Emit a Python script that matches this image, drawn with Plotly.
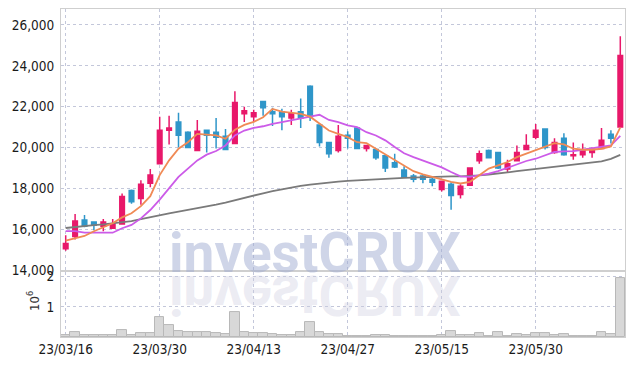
import plotly.graph_objects as go

dates = ["23/03/16","23/03/17","23/03/20","23/03/21","23/03/22","23/03/23","23/03/24","23/03/27","23/03/28","23/03/29",
         "23/03/30","23/03/31","23/04/03","23/04/04","23/04/05","23/04/06","23/04/07","23/04/10","23/04/11","23/04/12",
         "23/04/13","23/04/14","23/04/17","23/04/18","23/04/19","23/04/20","23/04/21","23/04/24","23/04/25","23/04/26",
         "23/04/27","23/04/28","23/05/02","23/05/03","23/05/04","23/05/08","23/05/09","23/05/10","23/05/11","23/05/12",
         "23/05/15","23/05/16","23/05/17","23/05/18","23/05/19","23/05/22","23/05/23","23/05/24","23/05/25","23/05/26",
         "23/05/30","23/05/31","23/06/01","23/06/02","23/06/05","23/06/07","23/06/08","23/06/09","23/06/12","23/06/13"]

open_ = [15050,15650,16450,16350,16150,16050,16250,17900,17500,18250,
         19200,20850,21250,20750,19850,20850,20750,20550,20200,21650,
         21500,22250,21750,21750,21450,21750,23000,21100,20250,19850,
         20600,20950,19950,19900,19600,19250,18900,18600,18600,18450,
         17950,18200,17700,18150,19350,19850,19750,18950,19350,19900,
         20500,20900,19750,20450,19600,19650,19750,19950,20650,21000]
high = [15700,16750,16700,16350,16500,16500,17750,17950,18400,18950,
        21500,21550,21700,20800,21350,20850,21450,20900,22750,22000,
        21850,22250,21950,21900,21850,22400,23050,21100,20250,21100,
        20800,20950,20100,19900,19600,19700,19080,18700,18700,18550,
        18350,18300,18200,19000,19850,19900,19750,19400,20100,20650,
        21150,20900,20450,20700,20250,20200,20000,20950,20850,25450]
low = [14950,15500,16100,15950,15900,16050,16250,17250,17200,18050,
       19200,20150,20000,20000,19850,19750,19950,19900,20200,21250,
       21250,21550,21050,20850,21100,20950,21300,20050,19500,19750,
       19950,19950,19800,19400,18800,19000,18550,18300,18250,18100,
       17850,16950,17500,18150,19200,19500,18950,18800,19350,19900,
       20400,19900,19700,19600,19400,19500,19500,19950,20200,21000]
close = [15300,16400,16150,16200,16350,16250,17600,17350,18200,18650,
         20850,20950,20600,20000,20800,20600,20500,19900,22200,21800,
         21700,21950,21650,21500,21650,21450,21500,20250,19700,20550,
         20450,19950,20100,19500,19000,19050,18550,18450,18450,18300,
         18350,17650,18100,19000,19700,19500,19000,19200,19750,20100,
         20850,20000,20250,19650,19650,19850,19900,20350,20450,24500]

volume_m = [0.05,0.17,0.05,0.05,0.08,0.05,0.24,0.08,0.14,0.14,
            0.67,0.38,0.20,0.17,0.17,0.16,0.14,0.10,0.83,0.16,
            0.12,0.12,0.10,0.07,0.07,0.16,0.48,0.16,0.10,0.10,
            0.03,0.03,0.03,0.08,0.06,0.03,0.03,0.03,0.02,0.03,
            0.05,0.20,0.05,0.07,0.13,0.03,0.16,0.03,0.10,0.07,
            0.13,0.13,0.07,0.10,0.03,0.03,0.03,0.17,0.10,1.96]

ma_short = [15440,15570,15670,15900,16090,16290,16580,16780,17130,17620,
            18650,19370,19940,20260,20670,20640,20590,20430,20870,21110,
            21250,21480,21890,21760,21710,21650,21510,21190,20830,20670,
            20510,20260,20210,19940,19660,19370,19110,18840,18690,18560,
            18440,18320,18240,18320,18640,18970,19130,19290,19530,19700,
            19880,20050,20210,20150,19940,19890,19890,19940,20050,20990]
ma_mid = [15910,15910,15830,15830,15830,15830,16050,16210,16530,16940,
          17450,17990,18560,18970,19370,19650,19830,20100,20590,20830,
          20960,21040,21160,21240,21320,21430,21510,21600,21350,21240,
          21080,21000,20750,20590,20350,20020,19720,19530,19370,19210,
          19030,18800,18590,18560,18640,18720,18840,19000,19180,19340,
          19450,19620,19780,19810,19820,19890,19970,20050,20100,20570]
ma_long = [16060,16120,16160,16205,16240,16290,16340,16400,16500,16600,
           16690,16780,16860,16940,17020,17100,17200,17300,17420,17540,
           17660,17760,17860,17950,18040,18120,18180,18240,18290,18330,
           18370,18400,18430,18450,18470,18490,18510,18530,18550,18560,
           18580,18590,18590,18600,18640,18680,18720,18780,18840,18890,
           18940,18990,19040,19090,19140,19190,19250,19320,19440,19640]

price_ticks = [14000, 16000, 18000, 20000, 22000, 24000, 26000]
vol_ticks = [1, 2]
x_tick_idx = [0, 10, 20, 30, 40, 50]

UP = "#e8186a"
DOWN = "#2f96c9"
GRID = "#c3c7da"
FRAME = "#cfcfcf"
FONT = "DejaVu Sans Condensed, sans-serif"
TICKFONT = dict(family=FONT, size=13.5, color="#1a1a1a")

fig = go.Figure()
fig.add_trace(go.Candlestick(
    x=dates, open=open_, high=high, low=low, close=close,
    increasing=dict(line=dict(color=UP, width=1.5), fillcolor=UP),
    decreasing=dict(line=dict(color=DOWN, width=1.5), fillcolor=DOWN),
    whiskerwidth=0, xaxis="x", yaxis="y", showlegend=False, hoverinfo="skip"))
fig.add_trace(go.Scatter(x=dates, y=ma_long, mode="lines", line=dict(color="#7a7a7a", width=1.8),
                         xaxis="x", yaxis="y", showlegend=False, hoverinfo="skip"))
fig.add_trace(go.Scatter(x=dates, y=ma_mid, mode="lines", line=dict(color="#cc5be8", width=1.8),
                         xaxis="x", yaxis="y", showlegend=False, hoverinfo="skip"))
fig.add_trace(go.Scatter(x=dates, y=ma_short, mode="lines", line=dict(color="#f08a55", width=1.8),
                         xaxis="x", yaxis="y", showlegend=False, hoverinfo="skip"))
fig.add_trace(go.Bar(x=dates, y=volume_m, marker=dict(color="#d8d8d8", line=dict(color="#b8b8b8", width=1)),
                     xaxis="x2", yaxis="y2", showlegend=False, hoverinfo="skip"))

tickvals_x = [dates[i] for i in x_tick_idx]
common_x = dict(type="category", range=[-0.5, 59.5], tickvals=tickvals_x, ticktext=tickvals_x,
                showgrid=True, gridcolor=GRID, griddash="dot", gridwidth=1,
                showline=True, linecolor=FRAME, linewidth=1, mirror=True, zeroline=False,
                ticks="", fixedrange=True, automargin=False)

fig.update_layout(
    width=634, height=366,
    margin=dict(l=61, r=9, t=9, b=29),
    paper_bgcolor="white", plot_bgcolor="white",
    font=dict(family=FONT, size=13.5, color="#1a1a1a"),
    bargap=0,
    xaxis=dict(common_x, anchor="y", showticklabels=False, rangeslider=dict(visible=False)),
    xaxis2=dict(common_x, anchor="y2", matches="x", showticklabels=True, tickfont=TICKFONT),
    yaxis=dict(domain=[0.204, 1], range=[14000, 26780], tickvals=price_ticks, tickformat=",",
               showgrid=True, gridcolor=GRID, griddash="dot", showline=True, linecolor=FRAME,
               mirror=True, zeroline=False, ticks="outside", ticklen=3, tickcolor="rgba(0,0,0,0)",
               tickfont=TICKFONT, fixedrange=True, automargin=False),
    yaxis2=dict(domain=[0, 0.198], range=[0, 2.15], tickvals=vol_ticks, ticktext=["1", "2"],
                showgrid=True, gridcolor=GRID, griddash="dot", showline=True, linecolor=FRAME,
                mirror=True, zeroline=False, ticks="outside", ticklen=3, tickcolor="rgba(0,0,0,0)",
                tickfont=TICKFONT, fixedrange=True, automargin=False),
    annotations=[
        dict(text="investCRUX", xref="paper", yref="paper", x=0.450, y=0.257,
             xanchor="center", yanchor="middle", showarrow=False,
             font=dict(family="Roboto", size=55, weight="bold", color="rgba(160,172,210,0.5)")),
        dict(text="investCRUX", xref="paper", yref="paper", x=0.450, y=0.129,
             xanchor="center", yanchor="middle", showarrow=False,
             font=dict(family="Roboto", size=55, weight="bold", color="rgba(205,205,225,0.4)")),
        dict(text="10<sup>6</sup>", xref="paper", yref="paper", x=-0.0496, y=0.11,
             xanchor="center", yanchor="middle", showarrow=False, textangle=-90,
             font=dict(family=FONT, size=13, color="#333333")),
    ],
)

post = """
document.body.style.margin = '0';
document.body.style.padding = '0';
var gd = document.getElementById('{plot_id}');
function flip(){
  var t = gd.querySelector('g.annotation[data-index="1"] text');
  if (t) { t.style.transformBox = 'fill-box'; t.style.transformOrigin = 'center'; t.style.transform = 'scaleY(-1)'; }
}
flip();
gd.on && gd.on('plotly_afterplot', flip);
"""
fig.write_html("out.html", post_script=post, config={"displayModeBar": False})
